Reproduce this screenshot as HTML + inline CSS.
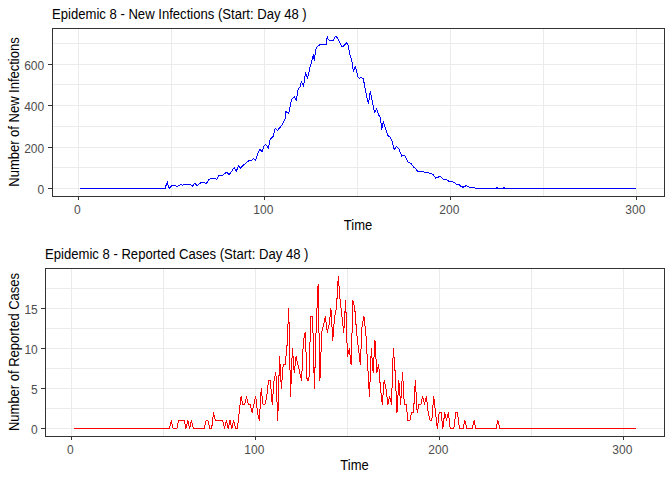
<!DOCTYPE html>
<html><head><meta charset="utf-8"><style>
html,body{margin:0;padding:0;background:#fff;width:672px;height:480px;overflow:hidden}
svg{display:block}
text{font-family:"Liberation Sans",sans-serif}
</style></head><body>
<svg width="672" height="480" viewBox="0 0 672 480" shape-rendering="crispEdges">
<rect width="672" height="480" fill="#fff"/>
<line x1="171.5" y1="29" x2="171.5" y2="196" stroke="#EBEBEB" stroke-width="1"/>
<line x1="357.5" y1="29" x2="357.5" y2="196" stroke="#EBEBEB" stroke-width="1"/>
<line x1="543.5" y1="29" x2="543.5" y2="196" stroke="#EBEBEB" stroke-width="1"/>
<line x1="78.5" y1="29" x2="78.5" y2="196" stroke="#EBEBEB" stroke-width="1"/>
<line x1="264.5" y1="29" x2="264.5" y2="196" stroke="#EBEBEB" stroke-width="1"/>
<line x1="450.5" y1="29" x2="450.5" y2="196" stroke="#EBEBEB" stroke-width="1"/>
<line x1="636.5" y1="29" x2="636.5" y2="196" stroke="#EBEBEB" stroke-width="1"/>
<line x1="53" y1="167.5" x2="664" y2="167.5" stroke="#EBEBEB" stroke-width="1"/>
<line x1="53" y1="126.5" x2="664" y2="126.5" stroke="#EBEBEB" stroke-width="1"/>
<line x1="53" y1="84.5" x2="664" y2="84.5" stroke="#EBEBEB" stroke-width="1"/>
<line x1="53" y1="43.5" x2="664" y2="43.5" stroke="#EBEBEB" stroke-width="1"/>
<line x1="53" y1="188.5" x2="664" y2="188.5" stroke="#EBEBEB" stroke-width="1"/>
<line x1="53" y1="147.5" x2="664" y2="147.5" stroke="#EBEBEB" stroke-width="1"/>
<line x1="53" y1="105.5" x2="664" y2="105.5" stroke="#EBEBEB" stroke-width="1"/>
<line x1="53" y1="64.5" x2="664" y2="64.5" stroke="#EBEBEB" stroke-width="1"/>
<polyline points="80,188.5 165.4,188.3 166.25,184.5 167.5,182 168.3,187 169.3,188.3 170.8,186.6 172.5,185.4 175,185.6 177.5,186.5 180.6,184.4 182.5,185.25 185,184.4 190,184.4 192.25,186.25 194.75,183.5 197.25,185.6 200,183.1 203.1,182.5 206.25,183.5 209.3,179.2 214.3,178.3 216.8,179.6 219.3,175 223.1,175 226.4,172.1 229.3,174.6 234.3,167.5 236.4,171.25 238.5,165.4 240.2,168.3 246.8,162.1 249.3,160.4 251.4,160.4 253.5,158.3 255.6,160.4 258.1,152.5 259.75,149.4 262.25,151.9 263.75,146.5 265.6,144.4 266.9,146 268.5,148.1 270.1,139.6 273.4,136.25 275.1,128.3 277.6,130.4 282.2,124.6 285.1,118.75 285.9,111.7 288.4,113.3 289.7,110 290.2,105.6 291.8,99.3 294.3,96.4 296.4,100.2 297.7,91 298.5,88.5 299.75,87.7 301.4,81.4 303.5,86.4 305.6,72.25 307.5,78.5 309.75,69.3 310,67.2 311.7,61.3 313.3,54.7 314.2,60.5 315.4,52.2 316.25,48 319.2,45.1 321.7,44.25 326.7,44.25 327.1,36.3 327.9,38.8 329.2,40.5 333.3,40.5 335.4,36.3 337.5,37.6 342.1,47.2 344.2,45.5 346.7,42.6 347.9,44.7 350,54.7 352.1,62.2 353.3,71.25 355.4,66.25 357.9,77.1 359.6,78.3 360.8,77.1 363.3,78.75 366.7,96.7 368.4,103.4 370.3,91.6 371.6,98.1 373.1,105.6 374.6,112.2 376.5,109 378.75,115 380.6,117.8 381.6,130 383.4,121.6 385.3,128.1 387.75,135.6 390,137.1 391.9,140.9 394.1,149.7 396.6,146.5 399,148.75 400,151.9 401.9,156.25 403.75,155 405.25,156.25 408.1,162.25 411.25,163.5 413.75,167.25 415.6,168.1 417.5,171.25 420,171.9 421.9,171 424.4,172.25 428.1,172.5 430.6,173.75 433.1,174.4 435.6,178.1 437.5,177.25 440.6,176.5 443.1,179.4 446.9,179.75 448.75,181.25 452.5,181.5 456.25,184 458.75,184.4 461.25,186.5 463.1,187.25 466.25,185.6 469.4,187.25 474.4,187.5 476.25,188.5 496,188.5 497,187.5 498,188.5 503,188.5 504,187.5 505,188.5 636,188.5" fill="none" stroke="#0000FF" stroke-width="1" stroke-linejoin="round"/>
<rect x="52.5" y="28.5" width="612" height="168" fill="none" stroke="#333333" stroke-width="1"/>
<line x1="78.5" y1="197" x2="78.5" y2="200" stroke="#333333" stroke-width="1"/>
<line x1="264.5" y1="197" x2="264.5" y2="200" stroke="#333333" stroke-width="1"/>
<line x1="450.5" y1="197" x2="450.5" y2="200" stroke="#333333" stroke-width="1"/>
<line x1="636.5" y1="197" x2="636.5" y2="200" stroke="#333333" stroke-width="1"/>
<line x1="48" y1="188.5" x2="52" y2="188.5" stroke="#333333" stroke-width="1"/>
<line x1="48" y1="147.5" x2="52" y2="147.5" stroke="#333333" stroke-width="1"/>
<line x1="48" y1="105.5" x2="52" y2="105.5" stroke="#333333" stroke-width="1"/>
<line x1="48" y1="64.5" x2="52" y2="64.5" stroke="#333333" stroke-width="1"/>
<text transform="translate(77.3 214)" font-size="12" fill="#4D4D4D" text-anchor="middle">0</text>
<text transform="translate(263.3 214)" font-size="12" fill="#4D4D4D" text-anchor="middle">100</text>
<text transform="translate(449.3 214)" font-size="12" fill="#4D4D4D" text-anchor="middle">200</text>
<text transform="translate(635.3 214)" font-size="12" fill="#4D4D4D" text-anchor="middle">300</text>
<text transform="translate(44.2 194)" font-size="12" fill="#4D4D4D" text-anchor="end">0</text>
<text transform="translate(44.2 153)" font-size="12" fill="#4D4D4D" text-anchor="end">200</text>
<text transform="translate(44.2 111)" font-size="12" fill="#4D4D4D" text-anchor="end">400</text>
<text transform="translate(44.2 70)" font-size="12" fill="#4D4D4D" text-anchor="end">600</text>
<text transform="translate(52 19) scale(1 1.1)" font-size="13.1" fill="#000" text-anchor="start">Epidemic 8 - New Infections (Start: Day 48 )</text>
<text transform="translate(358 230) scale(1 1.06)" font-size="13" fill="#000" text-anchor="middle">Time</text>
<text transform="translate(19 112) rotate(-90) scale(1 1.06)" font-size="13" fill="#000" text-anchor="middle">Number of New Infections</text>
<line x1="163.5" y1="269" x2="163.5" y2="436" stroke="#EBEBEB" stroke-width="1"/>
<line x1="347.5" y1="269" x2="347.5" y2="436" stroke="#EBEBEB" stroke-width="1"/>
<line x1="531.5" y1="269" x2="531.5" y2="436" stroke="#EBEBEB" stroke-width="1"/>
<line x1="71.5" y1="269" x2="71.5" y2="436" stroke="#EBEBEB" stroke-width="1"/>
<line x1="255.5" y1="269" x2="255.5" y2="436" stroke="#EBEBEB" stroke-width="1"/>
<line x1="439.5" y1="269" x2="439.5" y2="436" stroke="#EBEBEB" stroke-width="1"/>
<line x1="623.5" y1="269" x2="623.5" y2="436" stroke="#EBEBEB" stroke-width="1"/>
<line x1="46" y1="408.5" x2="664" y2="408.5" stroke="#EBEBEB" stroke-width="1"/>
<line x1="46" y1="368.5" x2="664" y2="368.5" stroke="#EBEBEB" stroke-width="1"/>
<line x1="46" y1="328.5" x2="664" y2="328.5" stroke="#EBEBEB" stroke-width="1"/>
<line x1="46" y1="288.5" x2="664" y2="288.5" stroke="#EBEBEB" stroke-width="1"/>
<line x1="46" y1="428.5" x2="664" y2="428.5" stroke="#EBEBEB" stroke-width="1"/>
<line x1="46" y1="388.5" x2="664" y2="388.5" stroke="#EBEBEB" stroke-width="1"/>
<line x1="46" y1="348.5" x2="664" y2="348.5" stroke="#EBEBEB" stroke-width="1"/>
<line x1="46" y1="308.5" x2="664" y2="308.5" stroke="#EBEBEB" stroke-width="1"/>
<polyline points="74.03,428.5 169.45,428.5 171.29,420.5 173.12,428.5 176.8,428.5 178.63,420.5 184.13,420.5 185.97,428.5 187.81,420.5 189.64,428.5 191.47,420.5 193.31,428.5 204.32,428.5 206.15,420.5 207.99,420.5 209.82,428.5 211.66,428.5 213.5,412.5 215.33,420.5 222.67,420.5 224.5,428.5 226.34,420.5 228.18,428.5 230.01,420.5 231.85,428.5 233.68,420.5 235.51,428.5 237.35,428.5 239.19,412.5 241.02,396.5 242.86,404.5 244.69,404.5 246.52,396.5 248.36,404.5 250.19,404.5 252.03,412.5 253.87,404.5 255.7,396.5 257.54,412.5 259.37,420.5 261.2,388.5 263.04,404.5 264.88,404.5 266.71,396.5 268.55,380.5 270.38,380.5 272.21,404.5 274.05,380.5 275.88,372.5 277.72,420.5 279.56,356.5 281.39,388.5 283.23,364.5 285.06,364.5 286.89,348.5 288.73,308.5 290.56,396.5 292.4,348.5 294.24,372.5 296.07,356.5 297.9,364.5 299.74,372.5 301.57,380.5 303.41,340.5 305.25,332.5 307.08,380.5 308.92,380.5 310.75,316.5 312.58,316.5 314.42,388.5 316.25,324.5 318.09,284.5 319.93,380.5 321.76,332.5 323.59,324.5 325.43,316.5 327.26,332.5 329.1,324.5 330.94,308.5 332.77,340.5 334.6,316.5 336.44,308.5 338.27,276.5 340.11,300.5 341.94,316.5 343.78,332.5 345.62,300.5 347.45,356.5 349.28,348.5 351.12,364.5 352.95,300.5 354.79,308.5 356.62,332.5 358.46,348.5 360.29,364.5 362.13,324.5 363.96,316.5 365.8,332.5 367.63,364.5 369.47,396.5 371.31,348.5 373.14,372.5 374.97,340.5 376.81,372.5 378.64,364.5 380.48,388.5 382.31,404.5 384.15,380.5 385.98,388.5 387.82,404.5 389.65,396.5 391.49,404.5 393.32,348.5 395.16,372.5 397.0,412.5 398.83,380.5 400.66,404.5 402.5,372.5 404.33,404.5 406.17,404.5 408.0,420.5 409.84,420.5 411.67,412.5 413.51,412.5 415.34,380.5 417.18,412.5 419.01,404.5 420.85,404.5 422.69,396.5 424.52,404.5 426.35,396.5 428.19,412.5 430.02,420.5 431.86,420.5 433.69,396.5 435.53,412.5 437.37,428.5 439.2,412.5 441.03,412.5 442.87,428.5 444.7,412.5 446.54,420.5 448.38,412.5 450.21,428.5 453.88,428.5 455.71,412.5 457.55,412.5 459.38,428.5 463.06,428.5 464.89,420.5 466.72,428.5 472.23,428.5 474.06,420.5 475.9,428.5 496.08,428.5 497.92,420.5 499.75,428.5 636.0,428.5" fill="none" stroke="#FF0000" stroke-width="1" stroke-linejoin="round"/>
<rect x="45.5" y="268.5" width="619" height="168" fill="none" stroke="#333333" stroke-width="1"/>
<line x1="71.5" y1="437" x2="71.5" y2="440" stroke="#333333" stroke-width="1"/>
<line x1="255.5" y1="437" x2="255.5" y2="440" stroke="#333333" stroke-width="1"/>
<line x1="439.5" y1="437" x2="439.5" y2="440" stroke="#333333" stroke-width="1"/>
<line x1="623.5" y1="437" x2="623.5" y2="440" stroke="#333333" stroke-width="1"/>
<line x1="41" y1="428.5" x2="45" y2="428.5" stroke="#333333" stroke-width="1"/>
<line x1="41" y1="388.5" x2="45" y2="388.5" stroke="#333333" stroke-width="1"/>
<line x1="41" y1="348.5" x2="45" y2="348.5" stroke="#333333" stroke-width="1"/>
<line x1="41" y1="308.5" x2="45" y2="308.5" stroke="#333333" stroke-width="1"/>
<text transform="translate(70.3 454)" font-size="12" fill="#4D4D4D" text-anchor="middle">0</text>
<text transform="translate(254.3 454)" font-size="12" fill="#4D4D4D" text-anchor="middle">100</text>
<text transform="translate(438.3 454)" font-size="12" fill="#4D4D4D" text-anchor="middle">200</text>
<text transform="translate(622.3 454)" font-size="12" fill="#4D4D4D" text-anchor="middle">300</text>
<text transform="translate(37.8 434)" font-size="12" fill="#4D4D4D" text-anchor="end">0</text>
<text transform="translate(37.8 394)" font-size="12" fill="#4D4D4D" text-anchor="end">5</text>
<text transform="translate(37.8 354)" font-size="12" fill="#4D4D4D" text-anchor="end">10</text>
<text transform="translate(37.8 314)" font-size="12" fill="#4D4D4D" text-anchor="end">15</text>
<text transform="translate(45 259) scale(1 1.1)" font-size="13.1" fill="#000" text-anchor="start">Epidemic 8 - Reported Cases (Start: Day 48 )</text>
<text transform="translate(354.5 470) scale(1 1.06)" font-size="13" fill="#000" text-anchor="middle">Time</text>
<text transform="translate(19 352) rotate(-90) scale(1 1.06)" font-size="13" fill="#000" text-anchor="middle">Number of Reported Cases</text>
</svg>
</body></html>
